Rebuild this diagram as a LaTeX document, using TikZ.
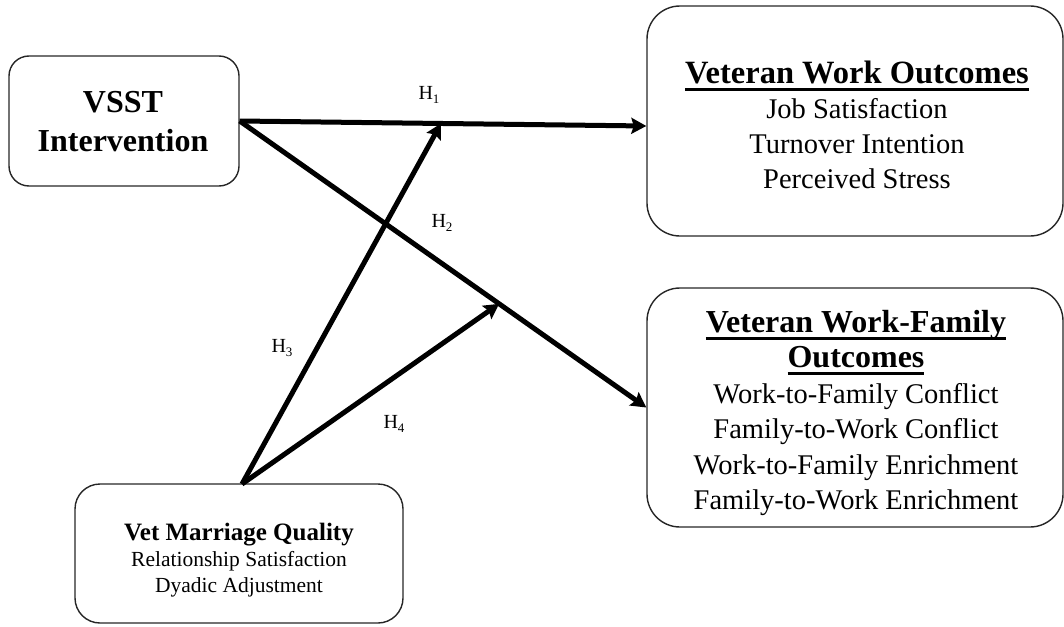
\documentclass[tikz,border=0pt]{standalone}
\usepackage{fontspec}
\setmainfont{Liberation Serif}
\usetikzlibrary{arrows.meta,calc}
\newcommand\myul[1]{\setbox0=\hbox{#1}\rlap{\rule[-7.5pt]{\wd0}{2.8pt}}\box0}
\newcommand\hlab[1]{H\raisebox{-4pt}{\fontsize{13}{13}\selectfont #1}}
\begin{document}
\begin{tikzpicture}[x=1pt,y=-1pt,
  box/.style={draw=black!85, line width=1.4pt, rounded corners=#1, inner sep=0pt},
  txt/.style={align=center, inner sep=0pt},
  conn/.style={line width=5pt, -{Stealth[length=15pt,width=16pt,inset=2.5pt]}},
  hl/.style={inner sep=0pt, font=\fontsize{20}{20}\selectfont}]
\useasboundingbox (0,0) rectangle (1064,626);
% boxes
\node[box=20pt, minimum width=230pt, minimum height=130pt] (vsst) at (124,121) {};
\node[box=33pt, minimum width=416pt, minimum height=230pt] (vwo) at (855,121) {};
\node[box=33pt, minimum width=416pt, minimum height=239pt] (wf) at (855,407.5) {};
\node[box=25pt, minimum width=328pt, minimum height=139pt] (mq) at (239,553.5) {};
% texts
\node[txt, font=\fontsize{32}{39}\selectfont\bfseries] (vsstt) at (123,121.5) {VSST\\Intervention};
\node[txt, font=\fontsize{28.5}{35}\selectfont] (vwot) at (857,124.5)
  {{\fontsize{32.5}{35}\selectfont\bfseries\myul{Veteran Work Outcomes}}\\Job Satisfaction\\Turnover Intention\\Perceived Stress};
\node[txt, font=\fontsize{28.5}{35.5}\selectfont] (wft) at (856,413)
  {{\fontsize{32}{35.5}\selectfont\bfseries\myul{Veteran Work-Family}}\\{\fontsize{32}{35.5}\selectfont\bfseries\myul{Outcomes}}\\Work-to-Family Conflict\\Family-to-Work Conflict\\Work-to-Family Enrichment\\Family-to-Work Enrichment};
\node[txt, font=\fontsize{21.5}{26}\selectfont] (mqt) at (239,560)
  {{\fontsize{25}{26}\selectfont\bfseries Vet Marriage Quality}\\Relationship Satisfaction\\Dyadic Adjustment};
% connectors
\coordinate (src) at (242,484);
\coordinate (t1) at ([yshift=-5pt]vwo.west);
\coordinate (m1) at ($(vsst.east)!0.495!(t1)$);
\coordinate (m2) at ($(vsst.east)!0.638!(wf.west)$);
\draw[conn] (vsst.east) -- (t1);
\draw[conn] (vsst.east) -- (wf.west);
\draw[conn] (src) -- (m1);
\draw[conn] (src) -- (m2);
% labels
\node[hl] (h1) at (429,95) {\hlab{1}};
\node[hl] (h2) at (442,223) {\hlab{2}};
\node[hl] (h3) at (282,348) {\hlab{3}};
\node[hl] (h4) at (394,424) {\hlab{4}};
\end{tikzpicture}
\end{document}
